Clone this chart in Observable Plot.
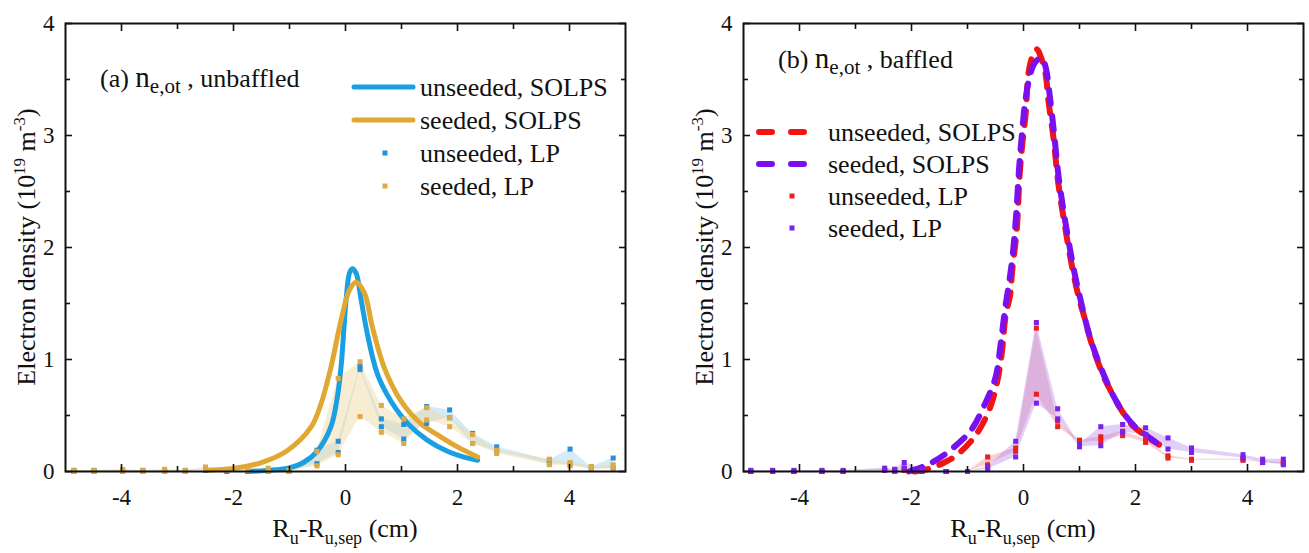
<!DOCTYPE html>
<html><head><meta charset="utf-8">
<script src="https://cdn.jsdelivr.net/npm/d3@7"></script>
<script src="https://cdn.jsdelivr.net/npm/@observablehq/plot@0.6"></script>
<style>
body{margin:0;background:#fff;font-family:"Liberation Serif";}
#wrap{display:flex;width:1309px;height:553px;}
#wrap svg, #wrap text, #wrap tspan{font-family:"Liberation Serif" !important;}
</style></head><body><div id="wrap"></div>
<script>
// ---------- Panel (a): unbaffled ----------
const aSolpsUnseededX = [-1.75,-1.4,-1.03,-0.75,-0.49,-0.26,-0.15,-0.08,0.01,0.07,0.12,0.19,0.28,0.39,0.57,0.81,1.11,1.46,1.82,2.1,2.36];
const aSolpsUnseededY = [0.0,0.01,0.03,0.08,0.19,0.40,0.65,0.93,1.53,1.77,1.81,1.77,1.53,1.23,0.87,0.63,0.43,0.28,0.18,0.13,0.10];
const aSolpsSeededX = [-2.5,-1.98,-1.5,-1.03,-0.61,-0.44,-0.26,-0.08,0.07,0.19,0.34,0.48,0.69,0.99,1.34,1.70,2.0,2.36];
const aSolpsSeededY = [0.01,0.03,0.08,0.19,0.40,0.60,0.93,1.35,1.62,1.69,1.59,1.29,0.93,0.63,0.43,0.31,0.22,0.13];
const aLpX = [-4.85,-4.49,-3.98,-3.62,-3.23,-2.86,-2.5,-2.12,-1.75,-1.38,-1.01,-0.51,-0.13,0.26,0.64,1.04,1.45,1.86,2.27,2.70,3.64,4.01,4.39,4.78];
const aLpUnseededHi = [0.01,0.01,0.01,0.01,0.01,0.01,0.02,0.01,0.01,0.01,0.01,0.19,0.27,0.94,0.47,0.42,0.58,0.55,0.34,0.22,0.10,0.20,0.04,0.12];
const aLpUnseededLo = [0.0,0.0,0.0,0.0,0.0,0.0,0.01,0.0,0.0,0.0,0.0,0.07,0.17,0.91,0.40,0.29,0.43,0.48,0.25,0.18,0.07,0.06,0.02,0.03];
const aLpSeededHi = [0.01,0.01,0.02,0.01,0.02,0.01,0.04,0.02,0.02,0.03,0.01,0.18,0.83,0.98,0.59,0.47,0.57,0.48,0.33,0.19,0.11,0.08,0.045,0.06];
const aLpSeededLo = [0.0,0.0,0.0,0.0,0.0,0.0,0.02,0.01,0.01,0.0,0.0,0.05,0.15,0.49,0.35,0.25,0.46,0.40,0.25,0.16,0.06,0.05,0.02,0.02];

// ---------- Panel (b): baffled ----------
const bSolpsUnseededX = [-1.95,-1.72,-1.5,-1.24,-0.89,-0.62,-0.47,-0.38,-0.32,-0.24,-0.2,-0.12,-0.07,-0.02,0.04,0.09,0.17,0.24,0.31,0.39,0.45,0.54,0.62,0.74,0.89,1.01,1.08,1.23,1.43,1.59,1.76,1.97,2.18,2.42];
const bSolpsUnseededY = [0.0,0.02,0.06,0.13,0.30,0.54,0.80,1.09,1.39,1.57,1.80,2.16,2.64,2.93,3.2,3.56,3.72,3.77,3.70,3.56,3.29,2.96,2.58,2.19,1.77,1.51,1.39,1.12,0.85,0.69,0.54,0.40,0.32,0.24];
const bSolpsSeededX = [-2.05,-1.81,-1.6,-1.36,-0.95,-0.70,-0.5,-0.41,-0.33,-0.26,-0.2,-0.13,-0.08,-0.03,0.03,0.1,0.18,0.26,0.33,0.40,0.47,0.55,0.63,0.75,0.9,1.02,1.18,1.37,1.61,1.79,1.99,2.2,2.45];
const bSolpsSeededY = [0.0,0.04,0.09,0.17,0.36,0.59,0.84,1.13,1.45,1.68,1.90,2.3,2.7,3.0,3.3,3.5,3.63,3.68,3.69,3.6,3.35,3.0,2.62,2.22,1.8,1.53,1.21,0.94,0.67,0.52,0.40,0.32,0.23];
const bLpX = [-4.87,-4.48,-4.1,-3.6,-3.22,-2.48,-2.3,-2.13,-1.81,-1.38,-1.0,-0.64,-0.14,0.23,0.61,1.0,1.38,1.77,2.18,2.58,3.0,3.92,4.27,4.64];
const bLpUnseededHi = [0.0,0.0,0.0,0.0,0.0,0.02,0.01,0.03,0.01,0.0,0.0,0.13,0.21,1.28,0.45,0.28,0.31,0.36,0.29,0.14,0.11,0.11,0.09,0.08];
const bLpUnseededLo = [0,0,0,0,0,0.01,0.0,0.01,0,0,0,0.06,0.18,0.69,0.40,0.26,0.27,0.32,0.26,0.12,0.10,0.10,0.08,0.07];
const bLpSeededHi = [0.01,0.01,0.01,0.01,0.01,0.03,0.02,0.08,0.02,0.0,0.0,0.04,0.27,1.33,0.56,0.24,0.40,0.42,0.39,0.30,0.21,0.15,0.11,0.11];
const bLpSeededLo = [0,0,0,0,0,0.01,0.01,0.03,0.01,0,0,0.02,0.13,0.61,0.47,0.22,0.23,0.35,0.33,0.20,0.17,0.12,0.08,0.06];

// ---------- ticks & labels ----------
const xMajor = [-4,-2,0,2,4];
const xMinor = [-3,-1,1,3];
const yMajor = [0,1,2,3,4];
const yMinor = [0.5,1.5,2.5,3.5];
const legendLabels = ["unseeded, SOLPS","seeded, SOLPS","unseeded, LP","seeded, LP"];

const SERIF = "Liberation Serif";
const fmt = d => (d < 0 ? "-" + Math.abs(d) : String(d));
const curveRows = (xs, ys) => xs.map((x, i) => ({x, y: ys[i]}));
const lpRows = (xs, hi, lo) => xs.map((x, i) => ({x, hi: hi[i], lo: lo[i]}));

function makePanel(cfg) {
  const H = 553, mT = 23, mB = 82;
  const lp1 = lpRows(cfg.lpX, cfg.lp1Hi, cfg.lp1Lo);
  const lp2 = lpRows(cfg.lpX, cfg.lp2Hi, cfg.lp2Lo);
  const c1 = curveRows(cfg.s1X, cfg.s1Y);
  const c2 = curveRows(cfg.s2X, cfg.s2Y);
  const lineOpts = {x: "x", y: "y", strokeWidth: cfg.lw, strokeLinecap: "round", strokeLinejoin: "round", curve: "catmull-rom"};
  if (cfg.dash) lineOpts.strokeDasharray = cfg.dash;
  const sq = {symbol: "square", r: 2.85};
  const svg = Plot.plot({
    width: cfg.width, height: H,
    marginLeft: cfg.mL, marginRight: cfg.mR, marginTop: mT, marginBottom: mB,
    x: {domain: [-5, 5]}, y: {domain: [0, 4]},
    style: {fontFamily: SERIF, fontSize: "23px", color: "#111", background: "white", overflow: "visible"},
    marks: [
      Plot.areaY(lp1, {x: "x", y1: "lo", y2: "hi", fill: cfg.band1, fillOpacity: cfg.bandOp}),
      Plot.areaY(lp2, {x: "x", y1: "lo", y2: "hi", fill: cfg.band2, fillOpacity: cfg.bandOp}),
      Plot.line(c1, {...lineOpts, stroke: cfg.col1}),
      Plot.line(c2, {...lineOpts, stroke: cfg.col2}),
      Plot.dot(lp1, {x: "x", y: "hi", fill: cfg.pt1, ...sq}),
      Plot.dot(lp1, {x: "x", y: "lo", fill: cfg.pt1, ...sq}),
      Plot.dot(lp2, {x: "x", y: "hi", fill: cfg.pt2, ...sq}),
      Plot.dot(lp2, {x: "x", y: "lo", fill: cfg.pt2, ...sq}),
      Plot.frame({stroke: "#111", strokeWidth: 2}),
      Plot.axisX(xMajor, {anchor: "bottom", tickSize: -7, fill: "none", label: null, strokeWidth: 1.6}),
      Plot.axisX(xMinor, {anchor: "bottom", tickSize: -5, fill: "none", label: null, strokeWidth: 1.6}),
      Plot.axisX(xMajor, {anchor: "top", tickSize: -7, fill: "none", label: null, strokeWidth: 1.6}),
      Plot.axisX(xMinor, {anchor: "top", tickSize: -5, fill: "none", label: null, strokeWidth: 1.6}),
      Plot.axisY(yMajor, {anchor: "left", tickSize: -7, fill: "none", label: null, strokeWidth: 1.6}),
      Plot.axisY(yMinor, {anchor: "left", tickSize: -5, fill: "none", label: null, strokeWidth: 1.6}),
      Plot.axisY(yMajor, {anchor: "right", tickSize: -7, fill: "none", label: null, strokeWidth: 1.6}),
      Plot.axisY(yMinor, {anchor: "right", tickSize: -5, fill: "none", label: null, strokeWidth: 1.6}),
      Plot.axisX(xMajor, {anchor: "bottom", tickSize: 0, tickPadding: 17, tickFormat: fmt, label: null, fill: "#111"}),
      Plot.axisY(yMajor, {anchor: "left", tickSize: 0, tickPadding: 11, tickFormat: fmt, label: null, fill: "#111"})
    ]
  });
  const s = d3.select(svg);
  const fL = cfg.mL, fR = cfg.width - cfg.mR, fB = H - mB;
  const cx = (fL + fR) / 2, cy = (mT + fB) / 2;
  // x label
  const xl = s.append("text").attr("x", cx).attr("y", fB + 66).attr("text-anchor", "middle")
    .attr("font-size", 26).attr("fill", "#111");
  xl.append("tspan").text("R");
  xl.append("tspan").attr("font-size", 18).attr("dy", 7).text("u");
  xl.append("tspan").attr("dy", -7).text("-R");
  xl.append("tspan").attr("font-size", 18).attr("dy", 7).text("u,sep");
  xl.append("tspan").attr("dy", -7).text(" (cm)");
  // y label
  const yl = s.append("text").attr("transform", `translate(${fL - 39},${cy}) rotate(-90)`)
    .attr("text-anchor", "middle").attr("dy", "0.35em").attr("font-size", 26).attr("fill", "#111");
  yl.append("tspan").text("Electron density (10");
  yl.append("tspan").attr("font-size", 17).attr("dy", -10).text("19");
  yl.append("tspan").attr("dy", 10).text(" m");
  yl.append("tspan").attr("font-size", 17).attr("dy", -10).text("-3");
  yl.append("tspan").attr("dy", 10).text(")");
  // title
  const t = s.append("text").attr("x", cfg.titleX).attr("y", cfg.titleY).attr("text-anchor", "start")
    .attr("font-size", 26).attr("fill", "#111");
  t.append("tspan").text(cfg.titlePre + " ");
  t.append("tspan").attr("font-size", 29).text("n");
  t.append("tspan").attr("font-size", 21).attr("dy", 6).text("e,ot");
  t.append("tspan").attr("dy", -6).text(" , " + cfg.titlePost);
  // legend
  const L = cfg.legend;
  const cols = [cfg.col1, cfg.col2, cfg.pt1, cfg.pt2];
  legendLabels.forEach((lab, i) => {
    const y = L.y0 + i * L.dy;
    if (i < 2) {
      const ln = s.append("line").attr("x1", L.lx1).attr("x2", L.lx2).attr("y1", y).attr("y2", y)
        .attr("stroke", cols[i]).attr("stroke-width", cfg.lw).attr("stroke-linecap", "round");
      if (L.dash) ln.attr("stroke-dasharray", L.dash);
    } else {
      s.append("rect").attr("x", L.mx - 2.5).attr("y", y - 2.5).attr("width", 5).attr("height", 5).attr("fill", cols[i]);
    }
    s.append("text").attr("x", L.tx).attr("y", y).attr("dy", "0.33em").attr("text-anchor", "start")
      .attr("font-size", 26).attr("fill", "#111").text(lab);
  });
  s.attr("font-family", SERIF);
  s.selectAll("text").attr("font-family", SERIF);
  return svg;
}

const wrap = document.getElementById("wrap");
wrap.appendChild(makePanel({
  width: 655, mL: 65, mR: 30,
  lpX: aLpX, lp1Hi: aLpUnseededHi, lp1Lo: aLpUnseededLo, lp2Hi: aLpSeededHi, lp2Lo: aLpSeededLo,
  s1X: aSolpsUnseededX, s1Y: aSolpsUnseededY, s2X: aSolpsSeededX, s2Y: aSolpsSeededY,
  col1: "#1a9fe3", col2: "#e0a832", pt1: "#2a90d4", pt2: "#deaa45",
  band1: "#9fd4f2", band2: "#eed69e", bandOp: 0.45, lw: 5, dash: null,
  titlePre: "(a)", titlePost: "unbaffled", titleX: 100, titleY: 87,
  legend: {y0: 87, dy: 33, lx1: 354, lx2: 413, mx: 385, tx: 420, dash: null}
}));
wrap.appendChild(makePanel({
  width: 654, mL: 88, mR: 6,
  lpX: bLpX, lp1Hi: bLpUnseededHi, lp1Lo: bLpUnseededLo, lp2Hi: bLpSeededHi, lp2Lo: bLpSeededLo,
  s1X: bSolpsUnseededX, s1Y: bSolpsUnseededY, s2X: bSolpsSeededX, s2Y: bSolpsSeededY,
  col1: "#f01414", col2: "#7a10f0", pt1: "#e82020", pt2: "#7a22e8",
  band1: "#f08080", band2: "#b080f0", bandOp: 0.38, lw: 6, dash: "14,12",
  titlePre: "(b)", titlePost: "baffled", titleX: 123, titleY: 68,
  legend: {y0: 132, dy: 32, lx1: 104, lx2: 149, mx: 137, tx: 173, dash: "13,19"}
}));
</script></body></html>
